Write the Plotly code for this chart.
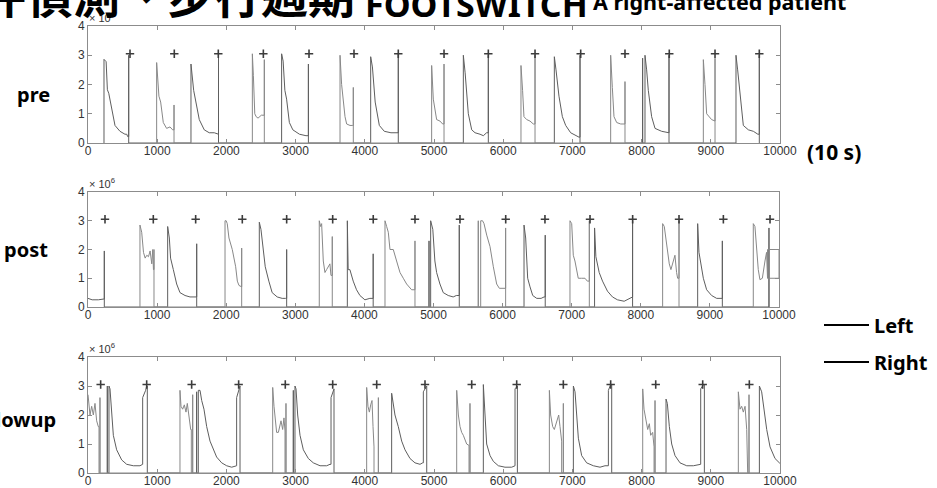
import plotly.graph_objects as go

# ---------------------------------------------------------------------------
# Footswitch pressure signals (units of 10^6), sampled index 0..10000 (10 s)
# ---------------------------------------------------------------------------
X_TICKS = [0, 1000, 2000, 3000, 4000, 5000, 6000, 7000, 8000, 9000, 10000]
X_TICK_TEXT = ["0", "1000", "2000", "3000", "4000", "5000",
               "6000", "7000", "8000", "9000", "10000"]
Y_TICKS = [0, 1, 2, 3, 4]
Y_TICK_TEXT = ["0", "1", "2", "3", "4"]
ROW_LABELS = ["pre", "post", "followup"]
SERIES_NAMES = ["Left", "Right"]
EVENT_LEVEL = 3.05

# ---- pre ------------------------------------------------------------------
PRE_LEFT_X = [231, 231, 262, 280, 300, 342, 390, 462, 534, 560, 573, 588, 588, 588,
              1488, 1488, 1527, 1560, 1608, 1680, 1752, 1825, 1870, 1886, 1886, 1886,
              2798, 2798, 2820, 2845, 2870, 2910, 2960, 3056, 3150, 3185, 3185, 3185,
              4085, 4085, 4110, 4130, 4150, 4210, 4282, 4378, 4450, 4484, 4484, 4484,
              5424, 5424, 5450, 5475, 5496, 5545, 5593, 5665, 5713, 5760, 5785, 5785, 5785,
              6739, 6739, 6763, 6806, 6855, 6903, 6975, 7047, 7095, 7110, 7110, 7110,
              8015, 8015, 8015, 8049, 8049, 8073, 8097, 8145, 8194, 8290, 8386, 8396, 8396, 8396,
              9364, 9364, 9388, 9410, 9422, 9470, 9543, 9615, 9680, 9701, 9701, 9701]
PRE_LEFT_Y = [0, 2.86, 2.78, 1.82, 1.7, 1.2, 0.6, 0.4, 0.3, 0.3, 0.22, 0.22, 3.0, 0,
              0, 2.7, 1.8, 1.4, 0.8, 0.45, 0.35, 0.35, 0.3, 0.3, 2.95, 0,
              0, 3.05, 2.8, 1.8, 1.5, 0.7, 0.45, 0.3, 0.25, 0.25, 2.7, 0,
              0, 2.95, 2.6, 1.8, 1.4, 0.6, 0.4, 0.35, 0.35, 0.35, 3.05, 0,
              0, 3.0, 2.4, 1.6, 1.0, 0.45, 0.35, 0.3, 0.25, 0.35, 0.35, 3.0, 0,
              0, 2.95, 2.5, 1.6, 0.9, 0.6, 0.35, 0.25, 0.2, 0.2, 3.0, 0,
              0, 2.9, 0, 0, 3.0, 2.5, 1.8, 0.9, 0.5, 0.4, 0.35, 0.35, 3.0, 0,
              0, 3.0, 2.5, 2.0, 1.5, 0.6, 0.45, 0.4, 0.3, 0.3, 3.0, 0]
PRE_RIGHT_X = [992, 992, 1025, 1050, 1088, 1136, 1185, 1223, 1243, 1243, 1243,
               2375, 2375, 2390, 2410, 2430, 2457, 2505, 2548, 2548, 2548,
               3642, 3642, 3665, 3690, 3714, 3738, 3786, 3825, 3834, 3834, 3834,
               4966, 4966, 4990, 5014, 5038, 5086, 5125, 5145, 5145, 5145,
               6257, 6257, 6280, 6300, 6340, 6387, 6435, 6460, 6460, 6460,
               7553, 7553, 7577, 7601, 7640, 7698, 7745, 7760, 7760, 7760,
               8892, 8892, 8916, 8940, 9012, 9050, 9061, 9061, 9061]
PRE_RIGHT_Y = [0, 2.75, 1.6, 1.4, 0.7, 0.5, 0.55, 0.45, 0.45, 1.3, 0,
               0, 3.05, 2.3, 1.0, 0.9, 0.85, 0.95, 0.95, 2.85, 0,
               0, 3.0, 2.0, 1.4, 0.9, 0.65, 0.6, 0.6, 0.6, 1.9, 0,
               0, 2.65, 1.5, 1.2, 0.8, 0.75, 0.65, 0.65, 2.7, 0,
               0, 2.65, 1.8, 0.9, 0.8, 0.75, 0.65, 0.65, 3.0, 0,
               0, 3.0, 1.9, 0.9, 0.7, 0.65, 0.65, 0.65, 2.1, 0,
               0, 2.85, 2.0, 1.0, 0.8, 0.75, 0.75, 2.9, 0]
PRE_EVENTS_X = [607, 1247, 1883, 2534, 3194, 3844, 4484, 5145,
                5785, 6460, 7120, 7760, 8400, 9061, 9701]

# ---- post -----------------------------------------------------------------
POST_LEFT_X = [0, 60, 150, 222, 236, 236, 236,
               1153, 1153, 1177, 1195, 1235, 1283, 1331, 1404, 1476, 1548, 1573, 1573, 1573,
               2479, 2479, 2503, 2540, 2565, 2617, 2665, 2738, 2810, 2858, 2875, 2875, 2875,
               3753, 3753, 3765, 3790, 3838, 3886, 3935, 4007, 4079, 4127, 4127, 4127,
               4935, 4935, 4935, 4959, 4959, 4990, 5020, 5045, 5093, 5141, 5213, 5285, 5330, 5373, 5373, 5373,
               6310, 6310, 6334, 6363, 6397, 6436, 6494, 6557, 6600, 6617, 6617, 6617,
               7331, 7331, 7350, 7398, 7446, 7518, 7590, 7662, 7759, 7831, 7865, 7881, 7881, 7881,
               8823, 8823, 8842, 8866, 8905, 8953, 9025, 9098, 9156, 9180, 9180, 9180,
               9855, 9855, 9855]
POST_LEFT_Y = [0.3, 0.25, 0.25, 0.28, 0.28, 1.95, 0,
               0, 2.8, 2.4, 1.7, 1.3, 0.8, 0.5, 0.4, 0.35, 0.35, 0.35, 2.2, 0,
               0, 2.95, 2.7, 2.0, 1.4, 0.9, 0.5, 0.35, 0.3, 0.3, 0.3, 2.0, 0,
               0, 3.0, 1.3, 1.3, 0.9, 0.6, 0.4, 0.25, 0.3, 0.3, 1.85, 0,
               0, 2.3, 0, 0, 3.0, 2.7, 1.6, 1.2, 0.8, 0.5, 0.4, 0.35, 0.4, 0.4, 2.85, 0,
               0, 2.85, 2.4, 1.0, 0.7, 0.4, 0.3, 0.3, 0.35, 0.35, 2.5, 0,
               0, 2.75, 1.75, 1.2, 0.9, 0.55, 0.35, 0.25, 0.2, 0.3, 0.35, 0.35, 3.0, 0,
               0, 2.9, 1.9, 1.5, 1.0, 0.6, 0.4, 0.3, 0.3, 0.3, 2.3, 0,
               0, 2.75, 0]
POST_RIGHT_X = [752, 752, 777, 803, 827, 851, 875, 899, 923, 937, 947, 955, 955, 955,
                1983, 1983, 2000, 2015, 2040, 2088, 2137, 2161, 2185, 2209, 2224, 2224, 2224,
                3347, 3347, 3366, 3381, 3405, 3429, 3453, 3477, 3501, 3516, 3535, 3535, 3535,
                4298, 4298, 4322, 4346, 4370, 4418, 4466, 4515, 4563, 4611, 4683, 4732, 4732, 4732,
                5648, 5648, 5648, 5683, 5683, 5710, 5731, 5770, 5818, 5866, 5914, 5953, 6001, 6044, 6044, 6044,
                6975, 6975, 7000, 7023, 7047, 7095, 7143, 7192, 7226, 7255, 7255, 7255,
                8316, 8316, 8340, 8364, 8388, 8412, 8436, 8460, 8494, 8518, 8533, 8553, 8553, 8553,
                9628, 9628, 9652, 9676, 9700, 9724, 9759, 9797, 9820, 9834, 9834, 10000, 10000, 9834]
POST_RIGHT_Y = [0, 2.85, 2.6, 1.9, 1.7, 1.8, 1.75, 1.95, 1.5, 2.0, 1.3, 1.3, 2.0, 0,
                0, 3.0, 3.0, 2.9, 2.4, 2.0, 1.4, 0.9, 0.75, 0.7, 0.7, 2.05, 0,
                0, 3.0, 2.8, 2.9, 1.6, 1.2, 1.3, 1.4, 1.5, 1.1, 1.1, 2.45, 0,
                0, 3.0, 2.8, 2.6, 2.0, 2.0, 1.6, 1.2, 1.0, 0.8, 0.6, 0.6, 2.3, 0,
                0, 3.0, 0, 0, 3.0, 3.0, 2.9, 2.5, 2.1, 1.4, 0.8, 0.65, 0.65, 0.65, 2.75, 0,
                0, 3.0, 2.9, 1.8, 1.6, 1.0, 1.0, 1.0, 0.9, 0.9, 3.0, 0,
                0, 2.9, 2.8, 2.3, 2.0, 1.5, 1.3, 1.5, 1.8, 1.2, 1.0, 1.0, 3.0, 0,
                0, 2.9, 2.8, 2.0, 1.3, 0.95, 1.0, 1.6, 1.9, 1.0, 2.0, 2.0, 1.0, 1.0]
POST_EVENTS_X = [246, 945, 1558, 2233, 2875, 3541, 4128, 4732,
                 5383, 6045, 6613, 7265, 7882, 8553, 9195, 9870]

# ---- followup -------------------------------------------------------------
FOLLOW_LEFT_X = [279, 279, 279, 303, 303, 318, 342, 366, 414, 487, 559, 655, 751, 776, 790, 790, 809, 833, 848, 857, 857,
                 1570, 1570, 1570, 1594, 1594, 1619, 1643, 1676, 1715, 1763, 1811, 1859, 1932, 2004, 2076, 2124, 2148, 2148, 2172, 2187, 2197, 2197,
                 2967, 2967, 2967, 2991, 2991, 3006, 3030, 3064, 3112, 3184, 3256, 3353, 3449, 3497, 3512, 3512, 3531, 3545, 3555, 3555,
                 4388, 4388, 4412, 4436, 4484, 4533, 4581, 4653, 4725, 4798, 4836, 4846, 4846, 4866, 4884, 4895, 4895,
                 5713, 5713, 5737, 5761, 5810, 5858, 5930, 6026, 6123, 6161, 6171, 6171, 6195, 6205, 6205,
                 7014, 7014, 7038, 7062, 7086, 7134, 7206, 7303, 7399, 7471, 7520, 7520, 7553, 7568, 7568,
                 8353, 8353, 8372, 8401, 8435, 8483, 8555, 8652, 8748, 8820, 8854, 8854, 8893, 8907, 8907,
                 9702, 9702, 9735, 9760, 9808, 9856, 9928, 9991, 10000]
FOLLOW_LEFT_Y = [0, 3.0, 0, 0, 3.0, 2.9, 2.0, 1.3, 0.8, 0.45, 0.3, 0.25, 0.25, 0.3, 0.3, 2.6, 2.7, 2.85, 3.0, 3.0, 0,
                 0, 2.8, 0, 0, 2.85, 2.85, 2.5, 2.2, 1.6, 1.1, 0.8, 0.55, 0.35, 0.25, 0.2, 0.25, 0.25, 2.6, 2.8, 3.0, 3.0, 0,
                 0, 2.85, 0, 0, 3.0, 2.9, 2.0, 1.3, 0.8, 0.5, 0.35, 0.25, 0.25, 0.3, 0.3, 2.6, 2.75, 2.9, 2.9, 0,
                 0, 2.75, 2.4, 2.0, 1.6, 1.1, 0.8, 0.5, 0.35, 0.3, 0.35, 0.35, 2.8, 2.9, 3.0, 3.0, 0,
                 0, 3.05, 2.0, 1.0, 0.6, 0.4, 0.25, 0.2, 0.2, 0.25, 0.25, 2.9, 3.0, 3.0, 0,
                 0, 3.0, 2.8, 2.0, 1.2, 0.6, 0.35, 0.25, 0.2, 0.25, 0.25, 2.85, 3.05, 3.05, 0,
                 0, 2.55, 2.4, 1.6, 1.0, 0.6, 0.35, 0.25, 0.25, 0.3, 0.3, 2.9, 3.05, 3.05, 0,
                 0, 3.0, 2.8, 2.3, 1.5, 0.9, 0.5, 0.35, 0.33]
FOLLOW_RIGHT_X = [0, 29, 53, 77, 101, 125, 149, 159, 159, 173, 173, 173,
                  1329, 1329, 1344, 1368, 1392, 1416, 1435, 1460, 1484, 1493, 1493, 1513, 1513, 1513,
                  2669, 2669, 2688, 2702, 2726, 2751, 2775, 2789, 2813, 2832, 2847, 2847, 2861, 2861, 2861,
                  4027, 4027, 4046, 4066, 4085, 4104, 4119, 4133, 4133, 4196, 4196, 4196,
                  5328, 5328, 5352, 5376, 5400, 5424, 5472, 5506, 5506, 5520, 5520, 5520,
                  6667, 6667, 6686, 6715, 6739, 6773, 6802, 6821, 6845, 6845, 6869, 6869, 6869,
                  8016, 8016, 8035, 8064, 8088, 8112, 8131, 8160, 8180, 8180, 8194, 8194, 8194,
                  9398, 9398, 9422, 9446, 9470, 9495, 9519, 9533, 9533, 9552, 9552, 9552]
FOLLOW_RIGHT_Y = [2.7, 2.0, 2.3, 2.0, 2.4, 1.8, 1.6, 1.6, 0, 0, 2.6, 0,
                  0, 2.85, 2.3, 2.2, 2.35, 2.1, 2.4, 1.9, 1.5, 1.5, 0, 0, 2.7, 0,
                  0, 2.95, 2.3, 2.0, 1.4, 1.4, 1.6, 1.8, 1.5, 1.9, 1.45, 0, 0, 2.4, 0,
                  0, 2.95, 2.3, 2.1, 2.35, 2.5, 1.6, 0.9, 0, 0, 2.6, 0,
                  0, 2.85, 2.0, 1.6, 1.4, 1.3, 1.0, 0.95, 0, 0, 2.4, 0,
                  0, 2.85, 2.0, 1.6, 1.5, 1.8, 2.0, 1.6, 1.1, 0, 0, 2.4, 0,
                  0, 2.9, 2.2, 1.8, 1.5, 1.7, 1.3, 1.4, 0.9, 0, 0, 2.5, 0,
                  0, 2.8, 2.2, 2.3, 2.1, 2.3, 1.5, 0.6, 0, 0, 2.7, 0]
FOLLOW_EVENTS_X = [183, 848, 1498, 2177, 2851, 3536, 4172, 4870,
                   5545, 6195, 6869, 7553, 8204, 8883, 9557]

PANELS = [
    (PRE_LEFT_X, PRE_LEFT_Y, PRE_RIGHT_X, PRE_RIGHT_Y, PRE_EVENTS_X),
    (POST_LEFT_X, POST_LEFT_Y, POST_RIGHT_X, POST_RIGHT_Y, POST_EVENTS_X),
    (FOLLOW_LEFT_X, FOLLOW_LEFT_Y, FOLLOW_RIGHT_X, FOLLOW_RIGHT_Y, FOLLOW_EVENTS_X),
]

# ---------------------------------------------------------------------------
# Page geometry (pixels) -> paper coordinates
# ---------------------------------------------------------------------------
W, H = 937, 488


def fx(px):
    return px / W


def fy(py):
    return 1 - py / H


# (left, right, top, bottom) of each plotting box
BOXES = [(88, 780, 26, 143), (88, 779, 192, 307), (88, 780, 357, 473)]
ROW_LABEL_POS = [(52, 94), (50, 249), (58, 419)]

LEFT_COLOR = "#5e5e5e"
RIGHT_COLOR = "#888888"
AXIS_COLOR = "#8c8c8c"
TICK_FONT = dict(family="Liberation Sans", size=12, color="#333333")
LABEL_FONT = dict(family="Noto Sans", size=20, color="black", weight=700)

fig = go.Figure()
layout = {}

for i, (lx, ly, rx, ry, ex) in enumerate(PANELS):
    n = "" if i == 0 else str(i + 1)
    xa, ya = "x" + n, "y" + n
    fig.add_trace(go.Scatter(x=lx, y=ly, xaxis=xa, yaxis=ya, mode="lines",
                             line=dict(color=LEFT_COLOR, width=1),
                             name=SERIES_NAMES[0], legendgroup="L", showlegend=False,
                             hoverinfo="skip"))
    fig.add_trace(go.Scatter(x=rx, y=ry, xaxis=xa, yaxis=ya, mode="lines",
                             line=dict(color=RIGHT_COLOR, width=1),
                             name=SERIES_NAMES[1], legendgroup="R", showlegend=False,
                             hoverinfo="skip"))
    fig.add_trace(go.Scatter(x=ex, y=[EVENT_LEVEL] * len(ex), xaxis=xa, yaxis=ya,
                             mode="markers", showlegend=False, hoverinfo="skip",
                             marker=dict(symbol="cross-thin", size=6,
                                         line=dict(color="#3c3c3c", width=1.6))))

    left, right, top, bottom = BOXES[i]
    layout["xaxis" + n] = dict(
        domain=[fx(left), fx(right)], anchor=ya, range=[0, 10000],
        tickvals=X_TICKS, ticktext=X_TICK_TEXT, ticks="inside", ticklen=4,
        tickcolor=AXIS_COLOR, showline=True, linecolor=AXIS_COLOR, linewidth=1,
        mirror="ticks", showgrid=False, zeroline=False, tickfont=TICK_FONT,
        ticklabelstandoff=-3)
    layout["yaxis" + n] = dict(
        domain=[fy(bottom), fy(top)], anchor=xa, range=[0, 4],
        tickvals=Y_TICKS, ticktext=Y_TICK_TEXT, ticks="inside", ticklen=4,
        tickcolor=AXIS_COLOR, showline=True, linecolor=AXIS_COLOR, linewidth=1,
        mirror="ticks", showgrid=False, zeroline=False, tickfont=TICK_FONT)

# legend entries (black keys)
fig.add_trace(go.Scatter(x=[None], y=[None], mode="lines", name=SERIES_NAMES[0],
                         legendgroup="L", line=dict(color="black", width=2),
                         legend="legend"))
fig.add_trace(go.Scatter(x=[None], y=[None], mode="lines", name=SERIES_NAMES[1],
                         legendgroup="R", line=dict(color="black", width=2),
                         legend="legend2"))

annotations = []
for i, label in enumerate(ROW_LABELS):
    px, py = ROW_LABEL_POS[i]
    annotations.append(dict(text=label, x=fx(px), y=fy(py), xref="paper", yref="paper",
                            xanchor="right", yanchor="middle", showarrow=False,
                            font=LABEL_FONT))
    left, right, top, bottom = BOXES[i]
    annotations.append(dict(text="× 10<sup>6</sup>", x=fx(left - 1), y=fy(top - 9),
                            xref="paper", yref="paper", xanchor="left", yanchor="middle",
                            showarrow=False, font=dict(family="Liberation Sans", size=11,
                                                       color="#333333")))

annotations += [
    dict(text="(10 s)", x=fx(805), y=fy(152), xref="paper", yref="paper",
         xanchor="left", yanchor="middle", showarrow=False,
         font=dict(family="Noto Sans", size=21, color="black", weight=700)),
    dict(text="事件偵測、步行週期", x=fx(357), y=fy(-7), xref="paper", yref="paper",
         xanchor="right", yanchor="middle", showarrow=False,
         font=dict(family="Noto Sans CJK TC", size=47, color="black", weight=700)),
    dict(text="FOOTSWITCH", x=fx(363), y=fy(4), xref="paper", yref="paper",
         xanchor="left", yanchor="middle", showarrow=False,
         font=dict(family="Noto Sans", size=34, color="black", weight=700)),
    dict(text="A right-affected patient", x=fx(591), y=fy(2), xref="paper", yref="paper",
         xanchor="left", yanchor="middle", showarrow=False,
         font=dict(family="Noto Sans", size=21.5, color="black", weight=700)),
]

legend_style = dict(xanchor="left", yanchor="middle", bgcolor="rgba(0,0,0,0)",
                    font=LABEL_FONT, itemwidth=45, borderwidth=0)

fig.update_layout(
    width=W, height=H, autosize=False,
    margin=dict(l=0, r=0, t=0, b=0, autoexpand=False),
    paper_bgcolor="white", plot_bgcolor="white",
    annotations=annotations,
    legend=dict(x=fx(819), y=fy(325), **legend_style),
    legend2=dict(x=fx(819), y=fy(362), **legend_style),
    **layout,
)

fig.write_html("out.html", config={"displayModeBar": False})
